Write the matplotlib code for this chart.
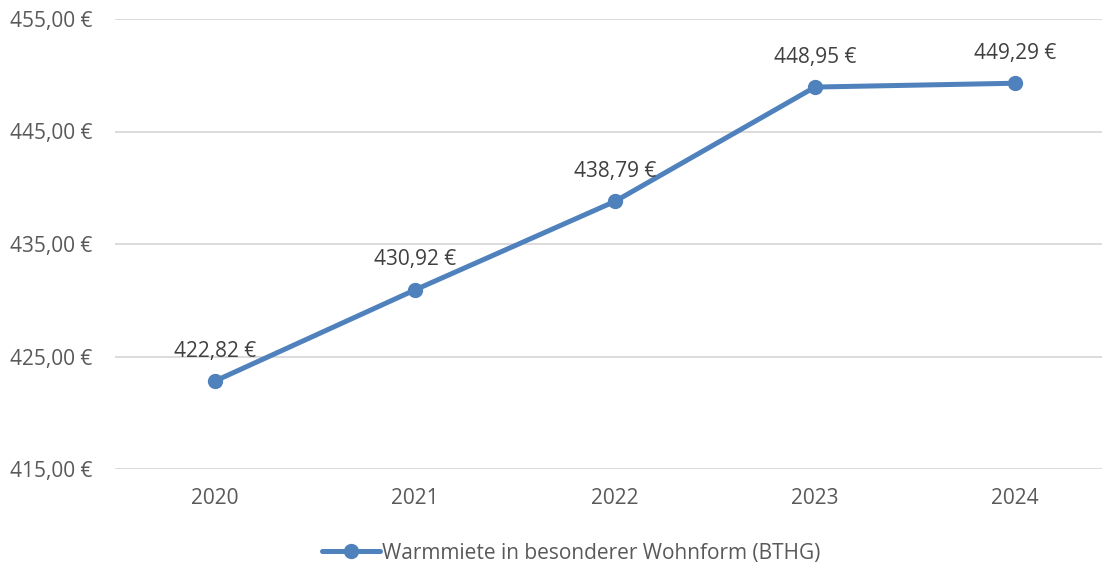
import matplotlib
matplotlib.use("Agg")
import matplotlib.pyplot as plt

years = ["2020", "2021", "2022", "2023", "2024"]
values = [422.82, 430.92, 438.79, 448.95, 449.29]
yticks = [415, 425, 435, 445, 455]
series_name = "Warmmiete in besonderer Wohnform (BTHG)"

def eur(v):
    return f"{v:.2f}".replace(".", ",") + " €"

plt.rcParams['font.family'] = ['Open Sans', 'DejaVu Sans']

W, H = 1102, 567
fig = plt.figure(figsize=(W/100, H/100), dpi=100)
left = 115 / W
ax = fig.add_axes([left, (H-469)/H, 1 - left, (469-19)/H])
x = list(range(len(years)))
color = "#4F81BD"
ax.plot(x, values, color=color, lw=3.6, marker="o", ms=10, solid_capstyle="round",
        label=series_name, zorder=3)
for xi, v in zip(x, values):
    ax.annotate(eur(v), (xi, v), xytext=(0, 14), textcoords="offset points",
                ha="center", va="bottom", fontsize=15, color="#404040")
ax.set_ylim(415, 455)
ax.set_xlim(-0.5, -0.5 + (W - 115) / 200)
ax.set_yticks(yticks)
ax.set_yticklabels([eur(t) for t in yticks])
ax.set_xticks(x)
ax.set_xticklabels(years)
ax.grid(axis="y", color="#D9D9D9", lw=1.3)
ax.set_axisbelow(True)
for s in ax.spines.values():
    s.set_visible(False)
ax.tick_params(length=0, labelsize=15, colors="#595959")
ax.tick_params(axis="x", pad=14)
ax.tick_params(axis="y", pad=16.5)
leg = fig.legend(loc="center", bbox_to_anchor=(571/W, 1 - 553/H), frameon=False,
                 fontsize=15, handlelength=2.8, handletextpad=0.05)
for t in leg.get_texts():
    t.set_color("#595959")
fig.savefig("out.png", dpi=100)
